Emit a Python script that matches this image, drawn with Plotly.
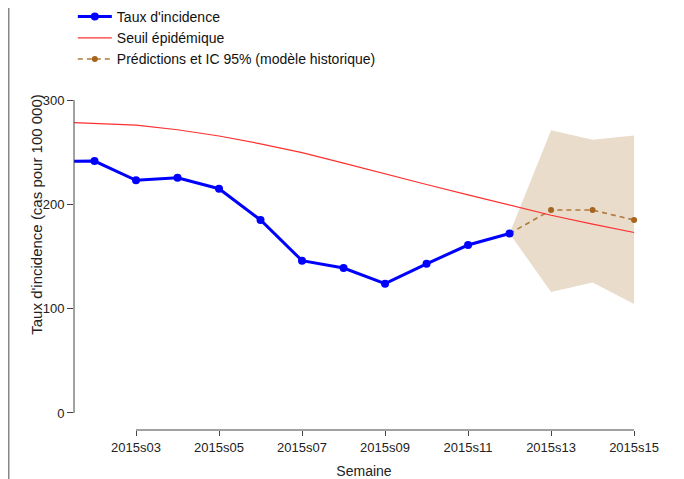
import plotly.graph_objects as go

weeks = list(range(1, 16))
week_labels = [f"2015s{w:02d}" for w in weeks]

obs_weeks = list(range(1, 13))
incidence = [241, 241.5, 223, 225.5, 215, 185, 146, 139, 124, 143, 161, 172]

threshold = [279, 277.5, 276, 271.5, 265.5, 258, 249.5, 239.5, 229, 219, 209, 199, 189.5, 181, 173]

pred_weeks = [12, 13, 14, 15]
pred = [172, 194.5, 194.5, 185]
ci_upper = [172, 271, 262, 266]
ci_lower = [172, 116, 125, 104.5]

tick_weeks = [3, 5, 7, 9, 11, 13, 15]
tick_text = [week_labels[w - 1] for w in tick_weeks]
y_ticks = [0, 100, 200, 300]

FONT = "Liberation Sans"

fig = go.Figure()

fig.add_trace(go.Scatter(
    x=pred_weeks + pred_weeks[::-1],
    y=ci_upper + ci_lower[::-1],
    fill="toself", fillcolor="#E9DCCB", line=dict(width=0),
    mode="lines", showlegend=False, hoverinfo="skip",
))
fig.add_trace(go.Scatter(
    x=pred_weeks, y=pred, mode="lines+markers",
    name="Prédictions et IC 95% (modèle historique)", legendrank=3,
    line=dict(color="#B07A3A", width=1.6, dash="5px,4px"),
    marker=dict(color="#A5651F", size=6),
))
fig.add_trace(go.Scatter(
    x=weeks, y=threshold, mode="lines", name="Seuil épidémique", legendrank=2,
    line=dict(color="#FF3030", width=1.2),
))
fig.add_trace(go.Scatter(
    x=obs_weeks, y=incidence, mode="lines+markers", name="Taux d'incidence", legendrank=1,
    line=dict(color="#0000FF", width=3), marker=dict(color="#0000FF", size=8),
))

# page body has an 8px margin: figure is shifted accordingly
fig.update_layout(
    width=676, height=471,
    margin=dict(l=66, r=30, t=87, b=49, autoexpand=False),
    paper_bgcolor="white", plot_bgcolor="white",
    font=dict(family=FONT, size=13, color="#222"),
    showlegend=True,
    legend=dict(x=-0.002, xanchor="left", y=1.2806, yanchor="top",
                font=dict(size=14, color="#111"), bgcolor="rgba(0,0,0,0)",
                tracegroupgap=0, itemwidth=34, traceorder="normal"),
    xaxis=dict(range=[1.506, 15.48], showgrid=False, zeroline=False, showline=False,
               tickmode="array", tickvals=tick_weeks, ticktext=tick_text,
               ticks="outside", ticklen=5, tickcolor="#444",
               tickfont=dict(size=13, color="#222"), automargin=False,
               title=dict(text="Semaine", font=dict(size=14, color="#222"), standoff=13)),
    yaxis=dict(range=[-16.3, 304.8], showgrid=False, zeroline=False, showline=False,
               tickmode="array", tickvals=y_ticks, automargin=False,
               ticks="outside", ticklen=6, tickcolor="#444",
               tickfont=dict(size=13, color="#222")),
)

# axis lines spanning only tick extents (R style)
fig.add_shape(type="line", xref="paper", yref="y", x0=0, x1=0,
              y0=y_ticks[0], y1=y_ticks[-1], line=dict(color="#444", width=1))
fig.add_shape(type="line", xref="x", yref="paper", x0=tick_weeks[0], x1=tick_weeks[-1],
              y0=0, y1=0, line=dict(color="#444", width=1))
# left gray border
fig.add_shape(type="line", xref="paper", yref="paper", x0=-0.1129, x1=-0.1129,
              y0=-0.2, y1=1.3, line=dict(color="#888", width=2))

fig.add_annotation(text="Taux d'incidence (cas pour 100 000)", textangle=-90,
                   xref="paper", yref="y", x=-0.0638, y=191, xanchor="center",
                   yanchor="middle", showarrow=False, font=dict(size=15, color="#222"))

fig.write_html("out.html")
